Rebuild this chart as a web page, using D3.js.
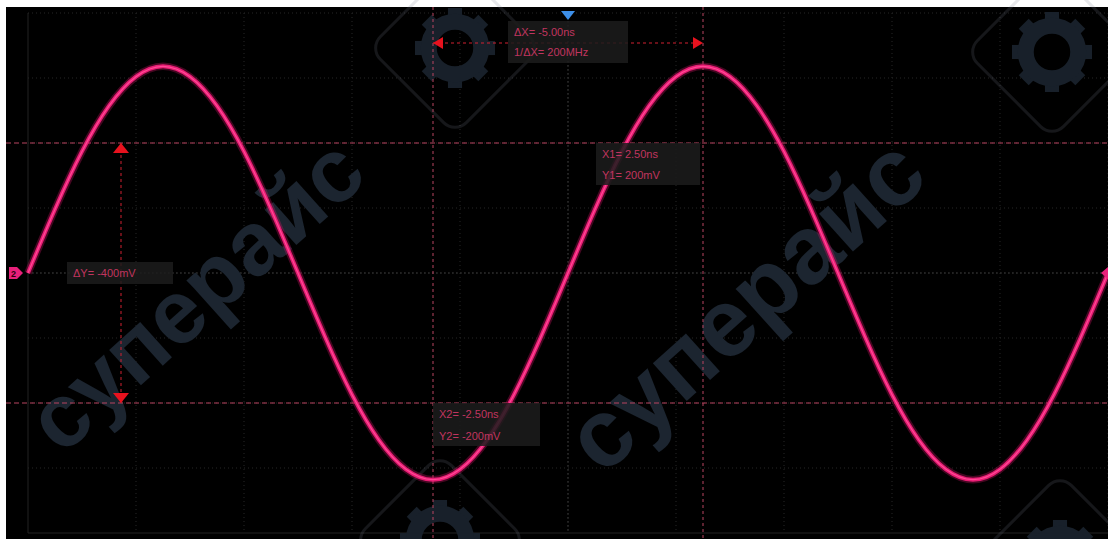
<!DOCTYPE html>
<html><head><meta charset="utf-8">
<script src="https://cdn.jsdelivr.net/npm/d3@7"></script>
<style>html,body{margin:0;padding:0;background:#fff;}svg{display:block;}</style>
</head><body>
<script>
// ---- data ----
const timesNs = [-10,-9.5,-9,-8.5,-8,-7.5,-7,-6.5,-6,-5.5,-5,-4.5,-4,-3.5,-3,-2.5,-2,-1.5,-1,-0.5,0,
                 0.5,1,1.5,2,2.5,3,3.5,4,4.5,5,5.5,6,6.5,7,7.5,8,8.5,9,9.5,10];
const voltsMv = [0,98,187,257,302,318,302,257,187,98,0,-98,-187,-257,-302,-318,-302,-257,-187,-98,0,
                 98,187,257,302,318,302,257,187,98,0,-98,-187,-257,-302,-318,-302,-257,-187,-98,0];
const xCursors = [2.5, -2.5];          // X1, X2 (ns)
const yCursors = [200, -200];          // Y1, Y2 (mV)
const xGridTicks = d3.range(-10, 10.01, 2);
const yGridTicks = d3.range(-400, 400.01, 100);
const labelsDX = ["ΔX= -5.00ns", "1/ΔX= 200MHz"];
const labelsC1 = ["X1= 2.50ns", "Y1= 200mV"];
const labelsC2 = ["X2= -2.50ns", "Y2= -200mV"];
const labelDY = "ΔY= -400mV";
const watermark = "суперайс";

const W = 1108, H = 539;
const svg = d3.select("body").append("svg").attr("width", W).attr("height", H);
const x = d3.scaleLinear().domain([-10, 10]).range([28, 1108]);
const y = d3.scaleLinear().domain([-400, 400]).range([533, 13]);

// background
svg.append("rect").attr("x", 0).attr("y", 0).attr("width", W).attr("height", H).attr("fill", "#fff");
svg.append("rect").attr("x", 6).attr("y", 7).attr("width", W - 6).attr("height", H - 7).attr("fill", "#000");

// grid
const grid = svg.append("g");
grid.selectAll(".vg").data(xGridTicks).join("line")
  .attr("x1", d => x(d)).attr("x2", d => x(d)).attr("y1", y(400)).attr("y2", y(-400))
  .attr("stroke", d => d === -10 ? "#222" : "#262626").attr("stroke-width", 1)
  .attr("stroke-dasharray", d => d === -10 ? null : "1,3");
grid.selectAll(".hg").data(yGridTicks).join("line")
  .attr("y1", d => y(d)).attr("y2", d => y(d)).attr("x1", x(-10)).attr("x2", x(10))
  .attr("stroke", d => d === -400 ? "#222" : "#262626").attr("stroke-width", 1)
  .attr("stroke-dasharray", d => d === -400 ? null : "1,3");
grid.append("line").attr("x1", x(-10)).attr("x2", x(10)).attr("y1", y(0)).attr("y2", y(0))
  .attr("stroke", "#333").attr("stroke-dasharray", "2,2");
grid.append("line").attr("y1", y(400)).attr("y2", y(-400)).attr("x1", x(0)).attr("x2", x(0))
  .attr("stroke", "#333").attr("stroke-dasharray", "2,2");

// watermark (logo gears + text)
const wm = svg.append("g");
function gear(cx, cy, r) {
  const g = wm.append("g").attr("transform", `translate(${cx},${cy})`);
  g.append("rect").attr("x", -r * 1.9).attr("y", -r * 1.9).attr("width", r * 3.8).attr("height", r * 3.8)
    .attr("rx", r * 0.5).attr("transform", "rotate(45)")
    .attr("fill", "none").attr("stroke", "rgba(120,130,145,0.18)").attr("stroke-width", 3);
  const teeth = d3.range(8).map(i => i * 45);
  g.selectAll(".t").data(teeth).join("rect")
    .attr("x", -r * 0.22).attr("y", -r * 1.25).attr("width", r * 0.44).attr("height", r * 0.5)
    .attr("transform", d => `rotate(${d})`).attr("fill", "#18202a");
  g.append("circle").attr("r", r * 0.82).attr("fill", "none").attr("stroke", "#18202a").attr("stroke-width", r * 0.5);
}
gear(455, 48, 32);
gear(1052, 52, 32);
gear(440, 540, 32);
gear(1060, 560, 32);

[[200, 300], [750, 310]].forEach(([cx, cy], i) => {
  wm.append("text").text(watermark)
    .attr("transform", `translate(${cx},${cy}) rotate(-42)`)
    .attr("text-anchor", "middle").attr("dominant-baseline", "middle")
    .attr("font-family", "Liberation Sans, Arial, sans-serif").attr("font-weight", "bold")
    .attr("font-size", i === 0 ? 90 : 96).attr("fill", "#1c2530");
});

// cursor lines
const cur = svg.append("g");
cur.selectAll(".xc").data(xCursors).join("line")
  .attr("x1", d => x(d)).attr("x2", d => x(d)).attr("y1", 7).attr("y2", H)
  .attr("stroke", "#b84560").attr("stroke-width", 1).attr("stroke-dasharray", "3,3");
cur.selectAll(".yc").data(yCursors).join("line")
  .attr("y1", d => y(d)).attr("y2", d => y(d)).attr("x1", 6).attr("x2", W)
  .attr("stroke", "#b84560").attr("stroke-width", 1).attr("stroke-dasharray", "5,3");

// waveform
const line = d3.line().x((d, i) => x(timesNs[i])).y(d => y(d)).curve(d3.curveNatural);
svg.append("path").datum(voltsMv).attr("d", line).attr("fill", "none")
  .attr("stroke", "#e0186e").attr("stroke-opacity", 0.3).attr("stroke-width", 7.5);
svg.append("path").datum(voltsMv).attr("d", line).attr("fill", "none")
  .attr("stroke", "#e81c74").attr("stroke-width", 4);
svg.append("path").datum(voltsMv).attr("d", line).attr("fill", "none")
  .attr("stroke", "#ff4a95").attr("stroke-width", 1.2);

// measurement arrows
const red = "#e8121e";
const ay = 43;
svg.append("line").attr("x1", x(-2.5)).attr("x2", x(2.5)).attr("y1", ay).attr("y2", ay)
  .attr("stroke", "#d02030").attr("stroke-dasharray", "3,3");
svg.append("path").attr("d", `M${x(-2.5)},${ay} l10,-6 l0,12 z`).attr("fill", red);
svg.append("path").attr("d", `M${x(2.5)},${ay} l-10,-6 l0,12 z`).attr("fill", red);
const ax = 121;
svg.append("line").attr("x1", ax).attr("x2", ax).attr("y1", y(200)).attr("y2", y(-200))
  .attr("stroke", "#d02030").attr("stroke-dasharray", "3,3");
svg.append("path").attr("d", `M${ax},${y(200)} l-8,10 l16,0 z`).attr("fill", red);
svg.append("path").attr("d", `M${ax},${y(-200)} l-8,-10 l16,0 z`).attr("fill", red);

// label boxes
function box(bx, by, bw, bh, lines, dy) {
  const g = svg.append("g");
  g.append("rect").attr("x", bx).attr("y", by).attr("width", bw).attr("height", bh)
    .attr("fill", "#1c1c1c").attr("fill-opacity", 0.85);
  g.selectAll("text").data(lines).join("text").text(d => d)
    .attr("x", bx + 6).attr("y", (d, i) => by + 15 + i * dy)
    .attr("font-family", "Liberation Sans, Arial, sans-serif").attr("font-size", 11)
    .attr("fill", "#c0355f");
}
box(508, 21, 120, 42, labelsDX, 20);
box(596, 143, 104, 42, labelsC1, 21);
box(433, 403, 107, 43, labelsC2, 22);
box(67, 262, 106, 22, [labelDY], 0);

// trigger position marker (top)
svg.append("path").attr("d", `M${x(0) - 7},11 l14,0 l-7,9 z`).attr("fill", "#3d8fe8");
// channel marker (left)
svg.append("path").attr("d", `M9,${y(0) - 6} l8,0 l6,6 l-6,6 l-8,0 z`).attr("fill", "#e8207a");
svg.append("text").text("2").attr("x", 11).attr("y", y(0) + 4).attr("font-size", 9)
  .attr("font-family", "Liberation Sans, Arial, sans-serif").attr("font-weight", "bold").attr("fill", "#300010");
// trigger level marker (right)
svg.append("path").attr("d", `M${W},${y(0) - 6} l-7,6 l7,6 z`).attr("fill", "#e8207a");
</script>
</body></html>
